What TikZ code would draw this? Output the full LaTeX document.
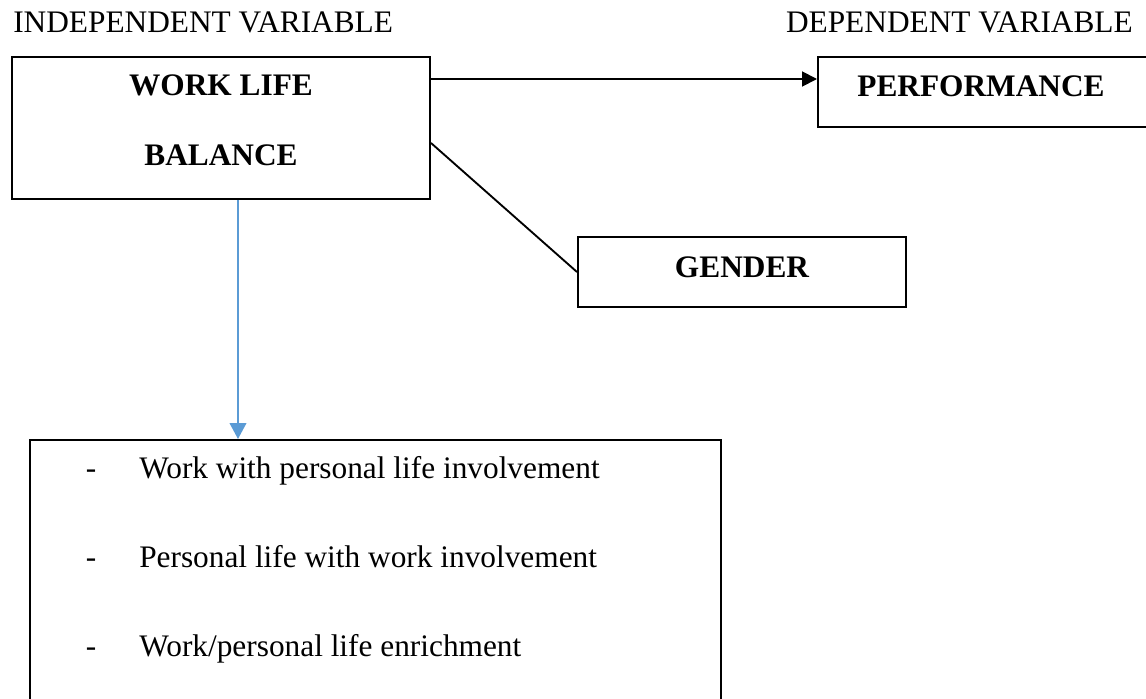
\documentclass[tikz,border=0pt]{standalone}
\usepackage{fontspec}
\setmainfont{Liberation Serif}
\usetikzlibrary{arrows.meta}
\definecolor{arrowblue}{HTML}{5B9BD5}
\tikzset{
  box/.style={draw=black, line width=1.5pt, rectangle, inner sep=0pt},
  lbl/.style={font=\fontsize{23.5}{28}\selectfont, inner sep=0pt},
  blbl/.style={font=\fontsize{23.5}{28}\selectfont\bfseries, inner sep=0pt},
  conn/.style={line width=1.4pt},
  blk/.style={conn, -{Triangle[length=11.25pt,width=11.25pt]}},
  blu/.style={conn, draw=arrowblue, -{Triangle[length=12pt,width=12.5pt]}},
}
\begin{document}
\begin{tikzpicture}[x=0.75pt,y=-0.75pt]
\useasboundingbox (0,0) rectangle (1146,699);
% boxes
\node[box, minimum width=313.5pt, minimum height=106.5pt] (wlb) at (221,128) {};
\node[box, minimum width=247.5pt, minimum height=52.5pt] (perf) at (983,92) {};
\node[box, minimum width=246pt, minimum height=52.5pt] (gender) at (742,272) {};
\node[box, minimum width=518.25pt, minimum height=210pt] (lst) at (375.5,580) {};
% headings
\node[lbl, anchor=base west] (indep) at (13,33) {INDEPENDENT VARIABLE};
\node[lbl, anchor=base east] (dep) at (1133,33) {DEPENDENT VARIABLE};
% box texts
\node[blbl, anchor=base] (wl1) at (221,96) {WORK LIFE};
\node[blbl, anchor=base] (wl2) at (221,166) {BALANCE};
\node[blbl, anchor=base] (perft) at (981,97) {PERFORMANCE};
\node[blbl, anchor=base] (gendert) at (742,277) {GENDER};
% list
\node[lbl, anchor=base] (d1) at (91,478) {-};
\node[lbl, anchor=base west] (t1) at (139,478) {Work with personal life involvement};
\node[lbl, anchor=base] (d2) at (91,567) {-};
\node[lbl, anchor=base west] (t2) at (139,567) {Personal life with work involvement};
\node[lbl, anchor=base] (d3) at (91,656) {-};
\node[lbl, anchor=base west] (t3) at (139,656) {Work/personal life enrichment};
% connectors
\coordinate (ay) at (0,79);
\coordinate (gy) at (0,143);
\coordinate (bx) at (238,0);
\draw[blk] (wlb.east |- ay) -- (perf.west |- ay);
\draw[conn] (wlb.east |- gy) -- (gender.west);
\draw[blu] (wlb.south -| bx) -- (lst.north -| bx);
\end{tikzpicture}
\end{document}
